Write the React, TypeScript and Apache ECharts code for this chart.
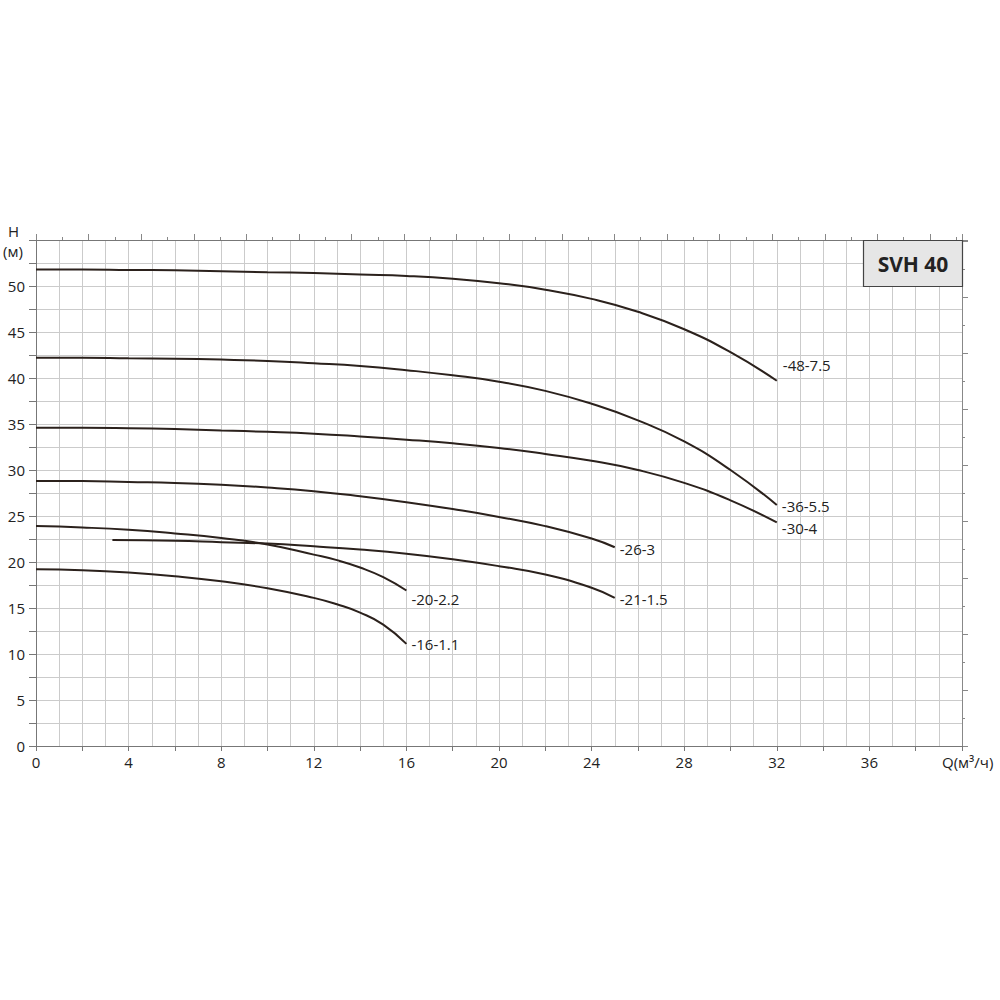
import React, { useEffect, useRef } from "react";
import * as echarts from "echarts";

const xMax = 40;
const yMax = 55;
const xTickLabels = [0, 4, 8, 12, 16, 20, 24, 28, 32, 36];
const yTickLabels = [0, 5, 10, 15, 20, 25, 30, 35, 40, 45, 50];

const curveNames = ["-48-7.5", "-36-5.5", "-30-4", "-26-3", "-21-1.5", "-20-2.2", "-16-1.1"];

const q48 = [0, 2, 4, 6, 8, 10, 12, 14, 16, 18, 20, 22, 24, 26, 28, 30, 32];
const h48 = [51.8, 51.8, 51.75, 51.7, 51.6, 51.5, 51.4, 51.25, 51.1, 50.8, 50.3, 49.6, 48.6, 47.2, 45.3, 42.8, 39.7];

const q36 = [0, 2, 4, 6, 8, 10, 12, 14, 16, 18, 20, 22, 24, 26, 28, 30, 32];
const h36 = [42.2, 42.2, 42.15, 42.1, 42.0, 41.85, 41.6, 41.3, 40.85, 40.3, 39.6, 38.6, 37.2, 35.4, 33.1, 30.0, 26.2];

const q30 = [0, 2, 4, 6, 8, 10, 12, 14, 16, 18, 20, 22, 24, 26, 28, 30, 32];
const h30 = [34.6, 34.6, 34.55, 34.45, 34.3, 34.15, 33.95, 33.65, 33.3, 32.9, 32.4, 31.75, 31.0, 30.0, 28.6, 26.7, 24.3];

const q26 = [0, 2, 4, 6, 8, 10, 12, 14, 16, 18, 20, 22, 24, 25];
const h26 = [28.8, 28.8, 28.7, 28.6, 28.4, 28.1, 27.7, 27.15, 26.5, 25.75, 24.9, 23.9, 22.55, 21.6];

const q21 = [3.3, 6, 8, 10, 12, 14, 16, 18, 20, 22, 24, 25];
const h21 = [22.4, 22.3, 22.15, 22.0, 21.7, 21.35, 20.9, 20.3, 19.55, 18.65, 17.2, 16.1];

const q20 = [0, 2, 4, 6, 8, 10, 12, 13, 14, 15, 16];
const h20 = [23.9, 23.75, 23.5, 23.1, 22.6, 21.9, 20.8, 20.2, 19.4, 18.35, 16.9];

const q16 = [0, 2, 4, 6, 8, 10, 12, 13, 14, 15, 16];
const h16 = [19.2, 19.1, 18.85, 18.45, 17.9, 17.15, 16.1, 15.4, 14.5, 13.2, 11.1];

const curveQ = [q48, q36, q30, q26, q21, q20, q16];
const curveH = [h48, h36, h30, h26, h21, h20, h16];
const labelOffsets: [number, number][] = [
  [1, -16],
  [0, 1],
  [0, 6],
  [0, 2],
  [0, 1],
  [0, 8],
  [0, 0],
];

const FONT = "Open Sans";
const LINE = "#2b211c";
const GRIDC = "#cbcbcb";

export default function App() {
  const ref = useRef<HTMLDivElement>(null);
  useEffect(() => {
    if (!ref.current) return;
    const chart = echarts.init(ref.current, null, { renderer: "svg" });
    const series = curveNames.map((name, i) => ({
      type: "line",
      name,
      xAxisIndex: 0,
      yAxisIndex: 0,
      data: curveQ[i].map((q, j) => [q, curveH[i][j]]),
      smooth: 0.5,
      symbol: "none",
      lineStyle: { color: LINE, width: 2 },
      endLabel: {
        show: true,
        formatter: name,
        color: "#222",
        fontFamily: FONT,
        fontSize: 15,
        distance: 5,
        offset: labelOffsets[i],
      },
      z: 5,
    }));
    chart.setOption({
      animation: false,
      backgroundColor: "#fff",
      grid: { left: 36, top: 240, width: 926, height: 506, containLabel: false },
      xAxis: [
        {
          type: "value",
          position: "bottom",
          min: 0,
          max: xMax,
          interval: 2,
          axisLine: { show: true, onZero: false, lineStyle: { color: "#777", width: 1 } },
          axisTick: { show: true, length: 5, lineStyle: { color: "#777" } },
          axisLabel: {
            color: "#222",
            fontFamily: FONT,
            fontSize: 15,
            margin: 8,
            formatter: (v: number) => (xTickLabels.includes(v) ? String(v) : ""),
          },
          splitLine: { show: true, lineStyle: { color: GRIDC, width: 1 } },
          minorTick: { show: false, splitNumber: 2 },
          minorSplitLine: { show: true, lineStyle: { color: GRIDC, width: 1 } },
        },
        {
          type: "value",
          position: "top",
          min: 0,
          max: 176.1,
          interval: 10,
          axisLine: { show: true, onZero: false, lineStyle: { color: "#777", width: 1 } },
          axisTick: { show: true, length: 6, lineStyle: { color: "#888" } },
          minorTick: { show: true, splitNumber: 2, length: 3, lineStyle: { color: "#888" } },
          axisLabel: { show: false },
          splitLine: { show: false },
        },
      ],
      yAxis: [
        {
          type: "value",
          position: "left",
          min: 0,
          max: yMax,
          interval: 2.5,
          axisLine: { show: true, onZero: false, lineStyle: { color: "#777", width: 1 } },
          axisTick: { show: true, length: 7, lineStyle: { color: "#777" } },
          axisLabel: {
            color: "#222",
            fontFamily: FONT,
            fontSize: 15,
            margin: 11,
            formatter: (v: number) => (yTickLabels.includes(v) ? String(v) : ""),
          },
          splitLine: { show: true, lineStyle: { color: GRIDC, width: 1 } },
        },
        {
          type: "value",
          position: "right",
          min: 0,
          max: 180.45,
          interval: 20,
          axisLine: { show: true, onZero: false, lineStyle: { color: "#888", width: 1 } },
          axisTick: { show: true, length: 6, lineStyle: { color: "#888" } },
          minorTick: { show: true, splitNumber: 2, length: 3, lineStyle: { color: "#888" } },
          axisLabel: { show: false },
          splitLine: { show: false },
        },
      ],
      graphic: [
        {
          type: "text",
          left: 8,
          top: 222,
          style: { text: "H", fontFamily: FONT, fontSize: 15, lineHeight: 17, fill: "#222" },
        },
        {
          type: "text",
          left: 3,
          top: 242,
          style: { text: "(м)", fontFamily: FONT, fontSize: 15, lineHeight: 17, fill: "#222" },
        },
        {
          type: "text",
          left: 942,
          top: 754,
          style: { text: "Q(м³/ч)", fontFamily: FONT, fontSize: 15, fill: "#222" },
        },
        {
          type: "rect",
          shape: { x: 863.5, y: 240.5, width: 99, height: 46 },
          style: { fill: "#e6e6e6", stroke: "#444", lineWidth: 1.2 },
          z: 10,
        },
        {
          type: "text",
          x: 913,
          y: 264,
          style: {
            text: "SVH 40",
            fontFamily: FONT,
            fontSize: 21,
            fontWeight: "bold",
            fill: "#222",
            align: "center",
            verticalAlign: "middle",
          },
          z: 11,
        },
      ],
      series,
    });
    return () => chart.dispose();
  }, []);
  return (
    <div
      ref={ref}
      style={{ position: "absolute", left: 0, top: 0, width: 1000, height: 1000 }}
    />
  );
}
